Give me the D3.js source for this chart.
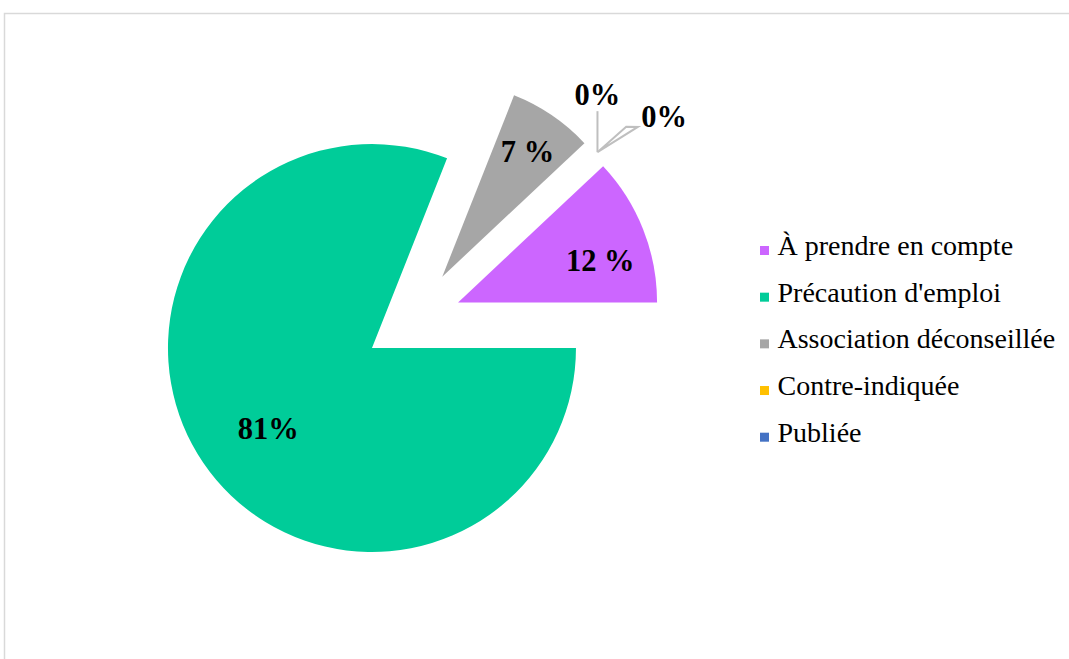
<!DOCTYPE html>
<html>
<head>
<meta charset="utf-8">
<script src="https://cdn.jsdelivr.net/npm/d3@7"></script>
<style>
  html, body { margin: 0; padding: 0; background: #fff; }
  svg { display: block; }
</style>
</head>
<body>
<svg id="chart" width="1069" height="659"></svg>
<script>
// Répartition des interactions par niveau de contrainte
const categories = ["À prendre en compte", "Précaution d'emploi", "Association déconseillée", "Contre-indiquée", "Publiée"];
const values = [12, 81, 7, 0, 0];
const valueLabels = ["12 %", "81%", "7 %", "0%", "0%"];
const colors = ["#CC66FF", "#00CC99", "#A6A6A6", "#FFC000", "#4472C4"];

const W = 1069, H = 659;
const svg = d3.select("#chart");
const rad = d => d * Math.PI / 180;
const polar = (a, r) => [Math.sin(a) * r, -Math.cos(a) * r];

// chart frame
svg.append("rect")
  .attr("x", 4.5).attr("y", 13.5)
  .attr("width", W + 20).attr("height", H + 20)
  .attr("fill", "#fff").attr("stroke", "#D9D9D9").attr("stroke-width", 1.5);

// pie layout: first slice rotated so the first category ends at 3 o'clock
const startDeg = 90 - 360 * values[0] / d3.sum(values);
const pie = d3.pie().sort(null).value(d => d)
  .startAngle(rad(startDeg)).endAngle(rad(startDeg + 360));
const arcsData = pie(values);

const cx = 412.5, cy = 320.5;                  // common pie centre
const sliceRadius = [199, 204, 195];           // outer radius per exploded slice
const explode = [49, 49, 53];                  // explosion distance per slice
const labelFrac = [0.745, 0.644, 0.777];       // label distance as share of radius
const labelTurn = [5.1, -3.6, 0];              // label angular adjustment (deg)

const g = svg.append("g");
const fontFamily = "'Liberation Serif', 'Times New Roman', serif";

arcsData.forEach((d, i) => {
  if (d.value <= 0) return;
  const mid = (d.startAngle + d.endAngle) / 2;
  const [ox, oy] = polar(mid, explode[i]);
  const ax = cx + ox, ay = cy + oy;
  const arc = d3.arc().innerRadius(0).outerRadius(sliceRadius[i]);
  g.append("path")
    .attr("d", arc(d))
    .attr("transform", `translate(${ax},${ay})`)
    .attr("fill", colors[i]);
  const [lx, ly] = polar(mid + rad(labelTurn[i]), labelFrac[i] * sliceRadius[i]);
  g.append("text")
    .attr("x", ax + lx).attr("y", ay + ly + 10.5)
    .attr("text-anchor", "middle")
    .attr("font-family", fontFamily).attr("font-weight", "bold")
    .attr("font-size", 30.5).attr("fill", "#000")
    .text(valueLabels[i]);
});

// zero-value slices: drawn as thin outlined slivers beyond the pie
const zeroGlyph = [null, null, null,
  { a0: 0, r0: 41, a1: 0, r1: 41 },
  { a0: 48.6, r0: 38.3, a1: 57.9, r1: 47.6 }];
const zeroExplode = 251;
arcsData.forEach((d, i) => {
  if (d.value > 0) return;
  const [ox, oy] = polar(d.startAngle, zeroExplode);
  const zx = cx + ox + 2, zy = cy + oy + 3.5;
  const gl = zeroGlyph[i];
  const p0 = polar(rad(gl.a0), gl.r0);
  const p1 = polar(rad(gl.a1), gl.r1);
  const path = d3.path();
  path.moveTo(0, 0);
  path.lineTo(p0[0], p0[1]);
  if (gl.a0 !== gl.a1) { path.lineTo(p1[0], p1[1]); path.closePath(); }
  g.append("path")
    .attr("d", path.toString())
    .attr("transform", `translate(${zx},${zy})`)
    .attr("fill", "none").attr("stroke", "#BFBFBF").attr("stroke-width", 2)
    .attr("stroke-linejoin", "miter");
  const t = g.append("text")
    .attr("font-family", fontFamily).attr("font-weight", "bold")
    .attr("font-size", 30.5).attr("fill", "#000")
    .text(valueLabels[i]);
  if (gl.a0 === gl.a1) {
    t.attr("x", zx + p0[0]).attr("y", zy + p0[1] - 6).attr("text-anchor", "middle");
  } else {
    t.attr("x", zx + p1[0] + 3.5).attr("y", zy + p1[1]).attr("text-anchor", "start");
  }
});

// legend
const legend = svg.append("g");
const legendY = d3.scalePoint().domain(categories).range([255, 441.7]);
categories.forEach((c, i) => {
  const y = legendY(c);
  legend.append("rect")
    .attr("x", 760).attr("y", y - 9)
    .attr("width", 9).attr("height", 9)
    .attr("fill", colors[i]);
  legend.append("text")
    .attr("x", 777.5).attr("y", y)
    .attr("font-family", fontFamily).attr("font-size", 28)
    .attr("fill", "#000")
    .text(c);
});
</script>
</body>
</html>
